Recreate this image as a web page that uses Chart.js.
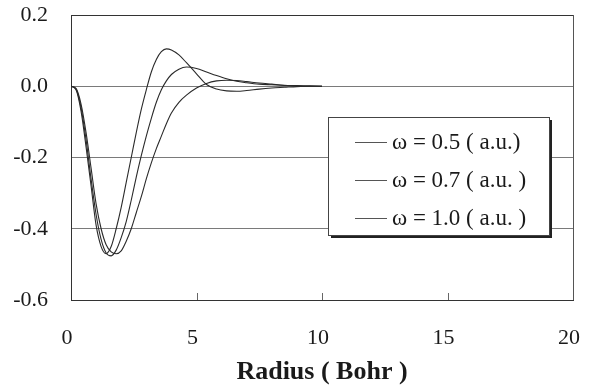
<!DOCTYPE html>
<html>
<head>
<meta charset="utf-8">
<script src="https://cdn.jsdelivr.net/npm/chart.js@4/dist/chart.umd.min.js"></script>
<style>
  html, body { margin: 0; padding: 0; background: #fff; }
  canvas { display: block; }
</style>
</head>
<body>
<canvas id="chart" width="596" height="390"></canvas>
<script>
// Radial functions for three frequencies, sampled on a common radius grid (Bohr)
const RADIUS = [0, 0.2, 0.4, 0.6, 0.8, 1.0, 1.2, 1.4, 1.6, 1.8, 2.0, 2.2, 2.4, 2.6, 2.8, 3.0,
                3.2, 3.4, 3.6, 3.8, 4.0, 4.3, 4.6, 5.0, 5.4, 5.8, 6.2, 6.6, 7.0, 7.5, 8.0,
                8.5, 9.0, 9.5, 10.0];

const W05 = [0, -0.006, -0.05, -0.13, -0.23, -0.33, -0.40, -0.445, -0.465, -0.47, -0.462,
             -0.435, -0.40, -0.355, -0.31, -0.26, -0.215, -0.175, -0.14, -0.105, -0.075,
             -0.045, -0.025, -0.005, 0.008, 0.015, 0.017, 0.016, 0.013, 0.009, 0.006,
             0.003, 0.002, 0.001, 0];

const W07 = [0, -0.008, -0.06, -0.15, -0.26, -0.36, -0.43, -0.468, -0.476, -0.46, -0.425,
             -0.38, -0.32, -0.255, -0.195, -0.14, -0.09, -0.045, -0.01, 0.015, 0.033,
             0.048, 0.054, 0.05, 0.04, 0.03, 0.021, 0.014, 0.01, 0.006, 0.004,
             0.002, 0.001, 0, 0];

const W10 = [0, -0.01, -0.07, -0.17, -0.28, -0.39, -0.45, -0.47, -0.45, -0.40, -0.34,
             -0.27, -0.20, -0.13, -0.065, -0.01, 0.04, 0.075, 0.097, 0.105, 0.102,
             0.088, 0.066, 0.035, 0.005, -0.008, -0.013, -0.014, -0.012, -0.008, -0.005,
             -0.003, -0.001, 0, 0];

const SERIES_LABELS = ['ω = 0.5 ( a.u.)', 'ω = 0.7 ( a.u. )', 'ω = 1.0 ( a.u. )'];
const SERIES_VALUES = [W05, W07, W10];

const X_TICKS = [0, 5, 10, 15, 20];
const Y_TICKS = [-0.6, -0.4, -0.2, 0.0, 0.2];

const FONT = 'Liberation Serif';
const INK  = '#1a1a1a';

Chart.defaults.font.family = FONT;
Chart.defaults.color = INK;

// small inward tick marks on the radius axis
const innerTicks = {
  id: 'innerTicks',
  afterDraw(chart) {
    const { ctx, chartArea, scales: { x } } = chart;
    ctx.save();
    ctx.strokeStyle = '#666';
    ctx.lineWidth = 1;
    X_TICKS.slice(1, -1).forEach(v => {
      const px = Math.round(x.getPixelForValue(v)) + 0.5;
      ctx.beginPath();
      ctx.moveTo(px, chartArea.bottom);
      ctx.lineTo(px, chartArea.bottom - 7);
      ctx.stroke();
    });
    ctx.restore();
  },
};

// boxed legend with a drop shadow, sitting inside the plot
const boxLegend = {
  id: 'boxLegend',
  afterDraw(chart) {
    const { ctx, chartArea } = chart;
    const x0 = chartArea.left + 257, y0 = chartArea.top + 102;
    const w = 221, h = 118;
    ctx.save();
    ctx.fillStyle = '#222';
    ctx.fillRect(x0 + 3, y0 + 3, w, h);
    ctx.fillStyle = '#fff';
    ctx.fillRect(x0, y0, w, h);
    ctx.strokeStyle = '#444';
    ctx.lineWidth = 1;
    ctx.strokeRect(x0 + 0.5, y0 + 0.5, w, h);

    ctx.font = `23px ${FONT}`;
    ctx.textBaseline = 'middle';
    ctx.textAlign = 'left';
    chart.data.datasets.forEach((ds, i) => {
      const ry = y0 + 25 + i * 38;
      ctx.strokeStyle = '#555';
      ctx.beginPath();
      ctx.moveTo(x0 + 27, ry + 0.5);
      ctx.lineTo(x0 + 59, ry + 0.5);
      ctx.stroke();
      ctx.fillStyle = INK;
      ctx.fillText(ds.label, x0 + 64, ry + 1);
    });
    ctx.restore();
  },
};

const datasets = SERIES_VALUES.map((vals, i) => ({
  label: SERIES_LABELS[i],
  data: RADIUS.map((r, k) => ({ x: r, y: vals[k] })),
  borderColor: '#2a2a2a',
  borderWidth: 1.1,
  pointRadius: 0,
  tension: 0.4,
  cubicInterpolationMode: 'monotone',
  fill: false,
}));

new Chart(document.getElementById('chart'), {
  type: 'line',
  data: { datasets },
  options: {
    responsive: false,
    animation: false,
    layout: { padding: { left: 0, right: 23, top: 15, bottom: 0 } },
    plugins: {
      legend:  { display: false },
      tooltip: { enabled: false },
    },
    scales: {
      x: {
        type: 'linear',
        min: 0,
        max: 20,
        afterBuildTicks: s => { s.ticks = X_TICKS.map(v => ({ value: v })); },
        afterFit: s => { s.height = 90; s.paddingLeft = 0; s.paddingRight = 0; },
        grid: {
          drawTicks: false,
          color: ctx => (ctx.tick && ctx.tick.value === 20 ? '#555' : 'rgba(0,0,0,0)'),
        },
        border: { color: '#333', width: 1 },
        ticks: {
          padding: 25,
          labelOffset: -4,
          font: { size: 22 },
          color: INK,
          maxRotation: 0,
        },
        title: {
          display: true,
          text: 'Radius ( Bohr )',
          font: { size: 26, weight: 'bold' },
          color: INK,
          padding: { top: 0, bottom: 2 },
        },
      },
      y: {
        type: 'linear',
        min: -0.6,
        max: 0.2,
        afterBuildTicks: s => { s.ticks = Y_TICKS.map(v => ({ value: v })); },
        afterFit: s => { s.width = 71; s.paddingTop = 0; s.paddingBottom = 0; },
        grid: {
          drawTicks: false,
          color: ctx => (ctx.tick && Math.abs(ctx.tick.value - 0.2) < 1e-9 ? '#333' : '#7a7a7a'),
        },
        border: { color: '#333', width: 1 },
        ticks: {
          padding: 23,
          font: { size: 22 },
          color: INK,
          callback: v => (Math.abs(v) < 1e-9 ? 0 : v).toFixed(1),
        },
      },
    },
  },
  plugins: [innerTicks, boxLegend],
});
</script>
</body>
</html>
